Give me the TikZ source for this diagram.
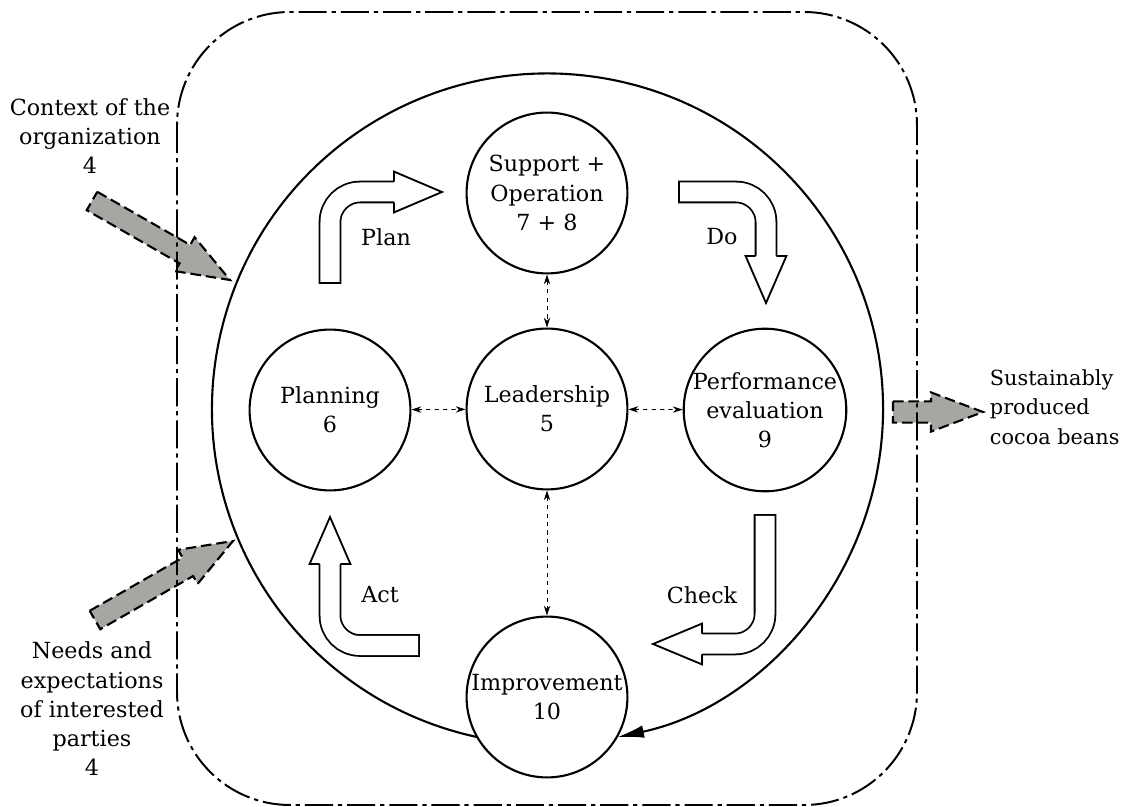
\documentclass[tikz,border=0pt]{standalone}
\usepackage{fontspec}
\setmainfont{DejaVu Serif}
\usetikzlibrary{arrows.meta,calc}
\definecolor{inputgray}{RGB}{166,167,163}

% hollow bent arrow: tail, corner, head start, tip
\newcommand\bentarrow[4]{%
  \draw[line width=0.565cm,rounded corners=0.75cm] ($(#1)!-0.045cm!(#2)$) -- (#2) -- (#3);
  \draw[line width=0.475cm,white,rounded corners=0.75cm] (#1) -- (#2) -- (#3);
  \draw[shaftline,fill=white] ($(#3)!0.26cm!90:(#4)$) -- ($(#3)!0.51cm!90:(#4)$) -- (#4)
    -- ($(#3)!0.51cm!-90:(#4)$) -- ($(#3)!0.26cm!-90:(#4)$);
}
% grey input/output arrow: tail, tip
\newcommand\grayarrow[2]{%
  \coordinate (#1-base) at ($(#2)!1.3cm!(#1)$);
  \draw[inarrow] ($(#1)!0.265cm!90:(#2)$) -- ($(#1-base)!0.265cm!90:(#2)$)
    -- ($(#1-base)!0.49cm!90:(#2)$) -- (#2) -- ($(#1-base)!0.49cm!-90:(#2)$)
    -- ($(#1-base)!0.265cm!-90:(#2)$) -- ($(#1)!0.265cm!-90:(#2)$) -- cycle;
}

\begin{document}
\begin{tikzpicture}[x=0.025cm,y=0.025cm,
    every node/.style={font=\fontsize{15.8}{20.8}\selectfont},
    stage/.style={circle,draw,line width=1.5pt,minimum size=4.02cm,inner sep=0pt,align=center},
    link/.style={{Stealth[length=7pt,width=4.5pt]}-{Stealth[length=7pt,width=4.5pt]},dashed,line width=0.6pt},
    border/.style={line width=1.4pt,rounded corners=2.825cm,dash pattern=on 20pt off 3.5pt on 3pt off 3.5pt},
    inarrow/.style={fill=inputgray,line width=1.5pt,dash pattern=on 7.5pt off 3.5pt},
    shaftline/.style={line width=1.3pt}]
  \useasboundingbox (0,0) rectangle (1127,-807);

  % inputs and output
  \node[align=center] (context) at (90,-136) {Context of the\\organization\\4};
  \node[align=center] (needs) at (92,-709) {Needs and\\expectations\\of interested\\parties\\4};
  \node[align=left,anchor=west,font=\fontsize{14.8}{20.8}\selectfont] (output) at (985,-407) {Sustainably\\produced\\cocoa beans};
  \coordinate (context-tail) at (92,-201);
  \coordinate (context-tip) at (230,-280);
  \coordinate (needs-tail) at (95,-620);
  \coordinate (needs-tip) at (233,-541);
  \coordinate (output-tail) at (893,-412);
  \coordinate (output-tip) at (983,-412);
  \grayarrow{context-tail}{context-tip}
  \grayarrow{needs-tail}{needs-tip}
  \grayarrow{output-tail}{output-tip}

  % system boundary
  \draw[border] (177,-12) rectangle (917,-805);

  % clauses
  \node[stage] (support) at (547,-193) {Support +\\Operation\\7 + 8};
  \node[stage] (lead) at (547,-409) {Leadership\\5};
  \node[stage] (planning) at (330,-410) {Planning\\6};
  \node[stage] (perf) at (765,-410) {Performance\\evaluation\\9};
  \node[stage] (improve) at (547,-697) {Improvement\\10};

  \draw[link] (planning) -- (lead);
  \draw[link] (lead) -- (perf);
  \draw[link] (support) -- (lead);
  \draw[link] (lead) -- (improve);

  % big cycle
  \coordinate (cycle) at (547.5,-409);
  \draw[line width=1.5pt,-{Latex[length=19pt,width=9pt]}] ($(cycle)+(258:335.5)$)
    arc[start angle=258,end angle=-78,radius=335.5];

  % PDCA arrows
  \coordinate (plan-tail) at (330,-282);
  \coordinate (plan-bend) at (330,-192);
  \coordinate (plan-head) at (394,-192);
  \coordinate (plan-tip) at (442,-192);
  \coordinate (do-tail) at (680,-192);
  \coordinate (do-bend) at (766,-192);
  \coordinate (do-head) at (766,-256);
  \coordinate (do-tip) at (766,-303);
  \coordinate (check-tail) at (765,-516);
  \coordinate (check-bend) at (765,-644);
  \coordinate (check-head) at (702,-644);
  \coordinate (check-tip) at (653,-644);
  \coordinate (act-tail) at (418,-645.5);
  \coordinate (act-bend) at (330,-645.5);
  \coordinate (act-head) at (330,-564);
  \coordinate (act-tip) at (330,-517);
  \bentarrow{plan-tail}{plan-bend}{plan-head}{plan-tip}
  \bentarrow{do-tail}{do-bend}{do-head}{do-tip}
  \bentarrow{check-tail}{check-bend}{check-head}{check-tip}
  \bentarrow{act-tail}{act-bend}{act-head}{act-tip}

  \node (plan-label) at (386,-237) {Plan};
  \node (do-label) at (722,-237) {Do};
  \node (check-label) at (702,-595) {Check};
  \node (act-label) at (380,-595) {Act};
\end{tikzpicture}
\end{document}
